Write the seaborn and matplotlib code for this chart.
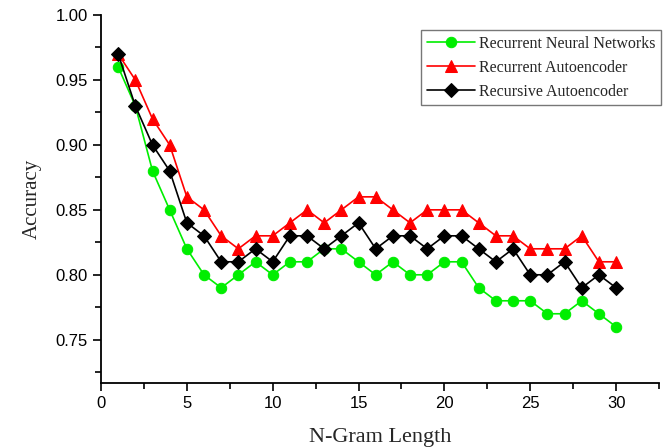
import numpy as np
import pandas as pd
import matplotlib
matplotlib.use("Agg")
import matplotlib.pyplot as plt
import seaborn as sns
from matplotlib.ticker import MultipleLocator

ngram = list(range(1, 31))
rnn = [0.96, 0.93, 0.88, 0.85, 0.82, 0.80, 0.79, 0.80, 0.81, 0.80,
       0.81, 0.81, 0.82, 0.82, 0.81, 0.80, 0.81, 0.80, 0.80, 0.81,
       0.81, 0.79, 0.78, 0.78, 0.78, 0.77, 0.77, 0.78, 0.77, 0.76]
rae = [0.97, 0.95, 0.92, 0.90, 0.86, 0.85, 0.83, 0.82, 0.83, 0.83,
       0.84, 0.85, 0.84, 0.85, 0.86, 0.86, 0.85, 0.84, 0.85, 0.85,
       0.85, 0.84, 0.83, 0.83, 0.82, 0.82, 0.82, 0.83, 0.81, 0.81]
recae = [0.97, 0.93, 0.90, 0.88, 0.84, 0.83, 0.81, 0.81, 0.82, 0.81,
         0.83, 0.83, 0.82, 0.83, 0.84, 0.82, 0.83, 0.83, 0.82, 0.83,
         0.83, 0.82, 0.81, 0.82, 0.80, 0.80, 0.81, 0.79, 0.80, 0.79]
names = ["Recurrent Neural Networks", "Recurrent Autoencoder", "Recursive Autoencoder"]
colors = ["#00ee00", "#ff0000", "#000000"]
markers = ["o", "^", "D"]
msizes = [7.5, 8.5, 7]

sns.set_style("ticks")
fig = plt.figure(figsize=(6.67, 4.48), dpi=100)
ax = fig.add_axes([101/667, 1-383/448, (659-101)/667, (383-15)/448])

for name, vals, c, m, ms in zip(names, [rnn, rae, recae], colors, markers, msizes):
    df = pd.DataFrame({"x": ngram, "y": vals})
    sns.lineplot(data=df, x="x", y="y", ax=ax, color=c, marker=m, markersize=ms,
                 markeredgecolor=c, markerfacecolor=c, linewidth=1.2, label=name)

ax.set_xlim(0, 32.5)
ax.set_ylim(0.7167, 1.0)
ax.xaxis.set_major_locator(MultipleLocator(5))
ax.xaxis.set_minor_locator(MultipleLocator(2.5))
ax.yaxis.set_major_locator(MultipleLocator(0.05))
ax.yaxis.set_minor_locator(MultipleLocator(0.025))
ax.yaxis.set_major_formatter(matplotlib.ticker.FormatStrFormatter("%.2f"))

for lab in ax.get_xticklabels() + ax.get_yticklabels():
    lab.set_fontfamily("Liberation Sans")
    lab.set_fontsize(12)
ax.tick_params(which="major", length=6, width=1.2, direction="out", colors="black")
ax.tick_params(which="minor", length=4, width=1.2, direction="out", colors="black")

ax.set_xlabel("N-Gram Length", fontfamily="Liberation Serif", fontsize=16, labelpad=12)
ax.set_ylabel("Accuracy", fontfamily="Liberation Serif", fontsize=15, labelpad=10)

sns.despine(ax=ax)
for s in ["left", "bottom"]:
    ax.spines[s].set_linewidth(1.3)
    ax.spines[s].set_color("black")

handles, labels = ax.get_legend_handles_labels()
leg = ax.legend(handles, labels, loc="upper left",
                bbox_to_anchor=(421/667, 1-30/448), bbox_transform=fig.transFigure,
                borderaxespad=0,
                prop={"family": "Liberation Serif", "size": 11.5}, frameon=True,
                fancybox=False, edgecolor="#555555", handlelength=3.0,
                borderpad=0.35, labelspacing=0.5, handletextpad=0.3, numpoints=1)
leg.get_frame().set_linewidth(1.0)

fig.savefig("out.png", dpi=100)
